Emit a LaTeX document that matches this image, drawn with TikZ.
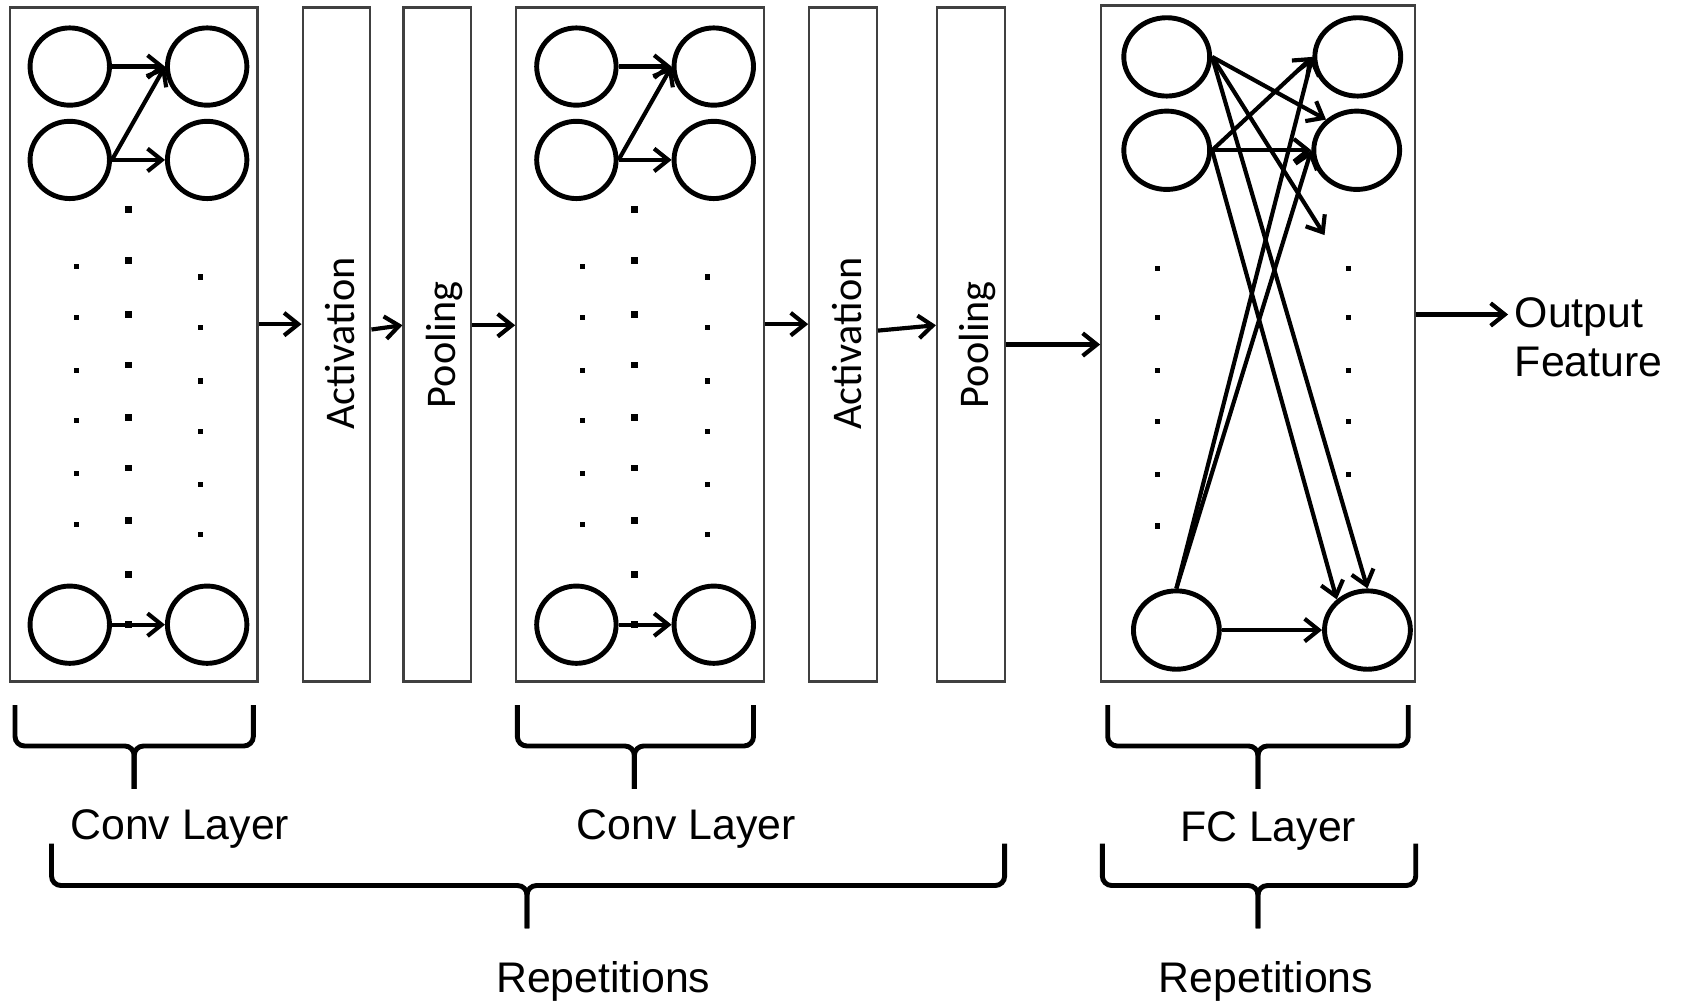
\documentclass[tikz,border=0pt]{standalone}
\usepackage{fontspec}
\setmainfont{Liberation Sans}
\newfontfamily\rotfont{Carlito}
\usetikzlibrary{shapes.geometric,arrows.meta}
\newcommand{\mybrace}[6]{%
  \draw[bracest] (#1,#4) -- (#1,#5) -- (#3,#5) -- (#3,#6);
  \draw[bracest] (#2,#4) -- (#2,#5) -- (#3,#5) -- (#3,#6);
}
\tikzset{
  panel/.style={draw=black!75, line width=1.2pt, inner sep=0pt, minimum height=628*0.02cm},
  neur/.style={ellipse, draw, line width=2.6pt, inner sep=0pt, minimum width=74*0.02cm, minimum height=72*0.02cm},
  fcneur/.style={neur, minimum width=80*0.02cm, minimum height=73*0.02cm},
  arr/.style={line width=2.2pt, -{Straight Barb[length=7.5pt,width=12pt]}},
  lbl/.style={font=\fontsize{22.7}{27}\selectfont, inner sep=0pt},
  rot/.style={font=\rotfont\fontsize{22.4}{27}\selectfont, rotate=90, inner sep=0pt},
  bracest/.style={line width=2.6pt, rounded corners=5pt},
}
\begin{document}
\begin{tikzpicture}[x=0.02cm,y=-0.02cm]
\useasboundingbox[fill=white] (0,0) rectangle (1568,934);

% panels
\node[panel, minimum width=231*0.02cm] (conv1) at (124.5,321) {};
\node[panel, minimum width=63*0.02cm] (act1) at (313.5,321) {};
\node[panel, minimum width=63*0.02cm] (pool1) at (407.5,321) {};
\node[panel, minimum width=231*0.02cm] (conv2) at (596.5,321) {};
\node[panel, minimum width=63*0.02cm] (act2) at (785.5,321) {};
\node[panel, minimum width=63*0.02cm] (pool2) at (904.5,321) {};
\node[panel, minimum width=292*0.02cm, minimum height=630*0.02cm] (fc) at (1172,320) {};

\node[rot] (act1t) at (317,320) {Activation};
\node[rot] (pool1t) at (414,321) {Pooling};
\node[rot] (act2t) at (789.5,320) {Activation};
\node[rot] (pool2t) at (911,321) {Pooling};

% dots in conv layers
\foreach \dx in {0,472} {
  \foreach \y in {248,296,345,392,441,489} {\fill (\dx+71-2.4,\y-2.4) rectangle ++(4.8,4.8);}
  \foreach \y in {195,243,293,340,389,436,485,535,582} {\fill (\dx+119.5-3.2,\y-3.2) rectangle ++(6.4,6.4);}
  \foreach \y in {258,305,355,402,451,498} {\fill (\dx+187-2.4,\y-2.4) rectangle ++(4.8,4.8);}
}
% dots in fc layer
\foreach \y in {250,296,345,393,442,490} {\fill (1078-2.4,\y-2.4) rectangle ++(4.8,4.8);}
\foreach \y in {250,296,345,393,442} {\fill (1256.5-2.4,\y-2.4) rectangle ++(4.8,4.8);}

% conv neurons
\foreach \n/\dx in {a/0,b/472} {
  \node[neur] (\n11) at (\dx+65,62) {};
  \node[neur] (\n12) at (\dx+193,62) {};
  \node[neur] (\n21) at (\dx+65,149) {};
  \node[neur] (\n22) at (\dx+193,149) {};
  \node[neur] (\n31) at (\dx+65,582) {};
  \node[neur] (\n32) at (\dx+193,582) {};
  \draw[arr] (\n11.east) -- (\n12.west);
  \draw[arr] (\n21.east) -- (\n12.west);
  \draw[arr] (\n21.east) -- (\n22.west);
  \draw[arr] (\n31.east) -- (\n32.west);
}

% fc neurons
\node[fcneur] (f11) at (1087,53) {};
\node[fcneur] (f21) at (1087,140) {};
\node[fcneur] (f31) at (1096,587) {};
\node[fcneur] (f12) at (1265,53) {};
\node[fcneur] (f22) at (1264,140) {};
\node[fcneur] (f32) at (1274,587) {};
\coordinate (fdots) at (1234,219);
\draw[arr] (f11.east) -- (f22.135);
\draw[arr] (f11.east) -- (fdots);
\draw[arr] (f11.east) -- (f32.north);
\draw[arr] (f21.east) -- (f12.west);
\draw[arr] (f21.east) -- (f22.west);
\draw[arr] (f21.east) -- (f32.135);
\draw[arr] (f31.north) -- (f12.west);
\draw[arr] (f31.north) -- (f22.west);
\draw[arr] (f31.east) -- (f32.west);

% arrows between stages
\draw[arr] (conv1.east |- 0,302) -- (act1.west |- 0,302);
\draw[arr] (act1.east |- 0,307) -- (pool1.west |- 0,303);
\draw[arr] (pool1.east |- 0,303) -- (conv2.west |- 0,303);
\draw[arr] (conv2.east |- 0,302) -- (act2.west |- 0,302);
\draw[arr] (act2.east |- 0,308) -- (pool2.west |- 0,303);
\draw[arr] (pool2.east |- 0,321) -- (fc.west |- 0,321);
\coordinate (outin) at (1405,293);
\draw[arr] (fc.east |- outin) -- (outin);

\node[lbl, anchor=base west] (o1) at (1411,305) {Output};
\node[lbl, anchor=base west] (o2) at (1411,351) {Feature};

% braces
\mybrace{14}{236}{125}{657}{695}{735}
\mybrace{482}{702}{591}{657}{695}{735}
\mybrace{1032}{1312}{1172}{657}{695}{735}
\mybrace{48}{936}{491}{786}{825}{865}
\mybrace{1027}{1319}{1172}{786}{825}{865}

\node[lbl, anchor=base] (l1) at (167.5,782) {Conv Layer};
\node[lbl, anchor=base] (l2) at (639.5,782) {Conv Layer};
\node[lbl, anchor=base] (l3) at (1181.5,784) {FC Layer};
\node[lbl, anchor=base] (r1) at (562,925) {Repetitions};
\node[lbl, anchor=base] (r2) at (1179.5,925) {Repetitions};
\end{tikzpicture}
\end{document}
